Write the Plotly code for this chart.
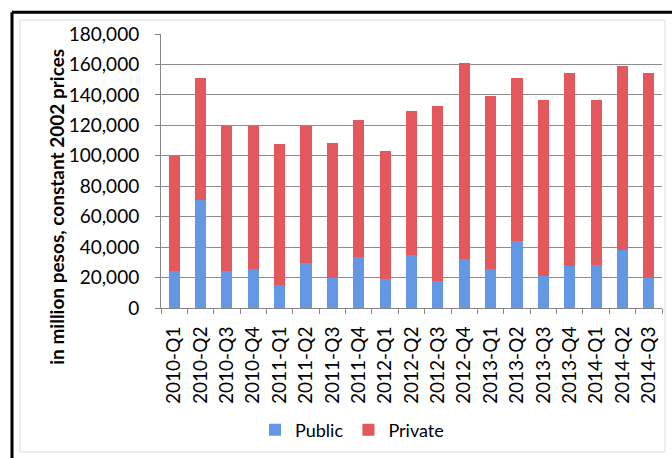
import plotly.graph_objects as go

categories = ["2010-Q1", "2010-Q2", "2010-Q3", "2010-Q4",
              "2011-Q1", "2011-Q2", "2011-Q3", "2011-Q4",
              "2012-Q1", "2012-Q2", "2012-Q3", "2012-Q4",
              "2013-Q1", "2013-Q2", "2013-Q3", "2013-Q4",
              "2014-Q1", "2014-Q2", "2014-Q3"]
public = [24200, 70900, 24200, 25300, 14900, 29700, 19900, 33400,
          19200, 35100, 17700, 32300, 25300, 44200, 21000, 27500,
          28000, 38300, 19900]
total = [99800, 151000, 119500, 119800, 108000, 119500, 108500, 123200,
         103200, 129300, 132600, 161200, 139400, 151000, 136800, 154300,
         136800, 159000, 154100]
private = [t - p for t, p in zip(total, public)]
y_ticks = [0, 20000, 40000, 60000, 80000, 100000, 120000, 140000, 160000, 180000]

FONT = "Lato"
PH = 458 - 34 - 148  # plot height in px
PW = 672 - 161 - 10  # plot width in px


def px_x(x):
    return (x - 161) / PW


def px_y(y):
    return (458 - 148 - y) / PH


fig = go.Figure()
fig.add_trace(go.Bar(x=categories, y=public, name="Public",
                     marker=dict(color="#6498E7", line=dict(width=0))))
fig.add_trace(go.Bar(x=categories, y=private, name="Private",
                     marker=dict(color="#E3585C", line=dict(width=0))))

fig.update_layout(
    barmode="stack",
    bargap=0.58,
    width=672, height=458,
    margin=dict(l=161, r=10, t=34, b=148),
    paper_bgcolor="white", plot_bgcolor="white",
    font=dict(family=FONT, size=18, color="#000000"),
    showlegend=True,
    legend=dict(orientation="h", x=px_x(352), xanchor="center", y=px_y(433), yanchor="middle",
                font=dict(size=18), itemwidth=30, traceorder="normal",
                bgcolor="rgba(0,0,0,0)"),
    xaxis=dict(type="category", tickangle=-90, ticks="outside", tickson="boundaries",
               ticklen=5, tickcolor="#868686", showline=True, linecolor="#868686",
               linewidth=1, showgrid=False, tickfont=dict(size=19),
               ticklabelstandoff=10),
    yaxis=dict(range=[0, 180000], tickvals=y_ticks,
               ticktext=[f"{v:,}" for v in y_ticks], ticks="outside", ticklen=5,
               tickcolor="#868686", showline=True, linecolor="#868686", linewidth=1,
               showgrid=True, gridcolor="#8C8C8C", gridwidth=1, zeroline=False,
               tickfont=dict(size=19), ticklabelstandoff=12),
    annotations=[dict(text="<b>in million pesos, constant 2002 prices</b>",
                      textangle=-90, xref="paper", yref="paper",
                      x=px_x(57), y=px_y(208), xanchor="center", yanchor="middle",
                      showarrow=False, font=dict(size=19, family=FONT))],
    shapes=[
        dict(type="rect", xref="paper", yref="paper", x0=px_x(20), x1=px_x(665),
             y0=px_y(455), y1=px_y(20), line=dict(color="#DADADA", width=1)),
        dict(type="line", xref="paper", yref="paper", x0=px_x(12), x1=1.05,
             y0=px_y(12), y1=px_y(12), line=dict(color="black", width=3)),
        dict(type="line", xref="paper", yref="paper", x0=px_x(12), x1=px_x(12),
             y0=px_y(12), y1=px_y(470), line=dict(color="black", width=3)),
    ],
)

fig.write_html("out.html")
